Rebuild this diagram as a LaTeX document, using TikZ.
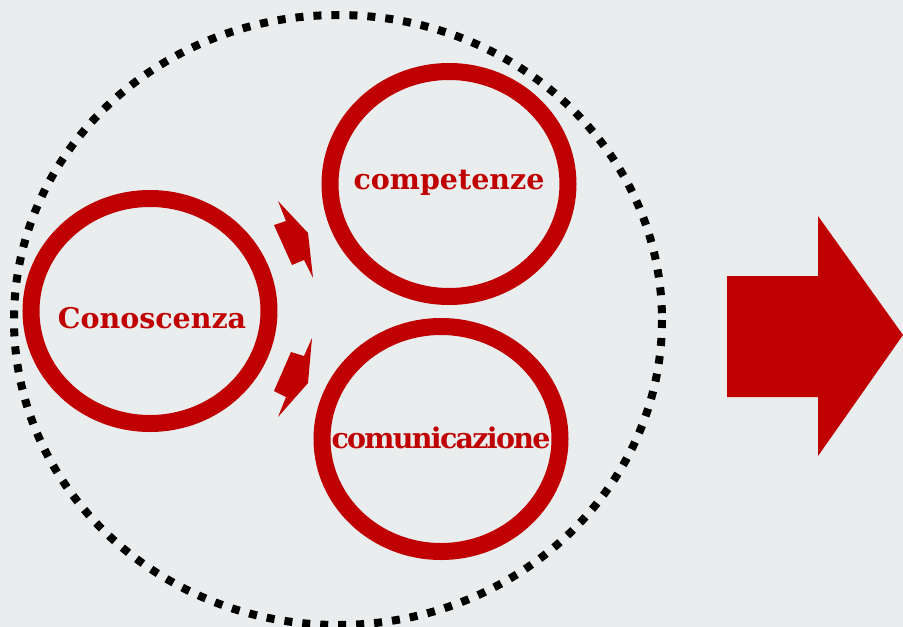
\documentclass[tikz,border=0pt]{standalone}
\usepackage{fontspec}
\setmainfont{DejaVu Serif}
\usetikzlibrary{shapes.geometric}
\definecolor{bg}{RGB}{233,237,238}
\definecolor{deepred}{RGB}{192,0,0}
\tikzset{
  ring/.style={draw=deepred, line width=17pt, ellipse, inner sep=0pt,
    minimum width=238pt, minimum height=225pt},
  ringlabel/.style={text=deepred, font=\bfseries\fontsize{28.5}{28.5}\selectfont, inner sep=0pt},
  chevron/.style={fill=deepred, draw=none},
  outline/.style={draw=black, line width=8pt, dash pattern=on 8pt off 10pt}
}
\begin{document}
\begin{tikzpicture}[x=1pt, y=-1pt]
  \fill[bg] (0,0) rectangle (903,627);
  \useasboundingbox (0,0) rectangle (903,627);
  % dotted boundary around the three rings
  \draw[outline] (338,320) ellipse [x radius=324, y radius=305];
  % rings
  \node[ring] (kn) at (150,311) {};
  \node[ring] (cp) at (449,184) {};
  \node[ring] (cm) at (441,439) {};
  \node[ringlabel] (knl) at (152,318) {Conoscenza};
  \node[ringlabel] (cpl) at (449,183) {competenze};
  \node[ringlabel] (cml) at (441,438) {\addfontfeature{LetterSpace=-6}comunicazione};
  % small notched arrows
  \fill[chevron] (278,201) -- (308,233) -- (313,278) -- (304,260) -- (292,265) -- (274,225) -- (286,221) -- cycle;
  \fill[chevron] (312,338) -- (304,356) -- (291,352) -- (274,391) -- (286,397) -- (278,417) -- (308,383) -- cycle;
  % block arrow
  \fill[deepred] (727,276) -- (818,276) -- (818,216) -- (903,335) -- (818,456) -- (818,397) -- (727,397) -- cycle;
\end{tikzpicture}
\end{document}
